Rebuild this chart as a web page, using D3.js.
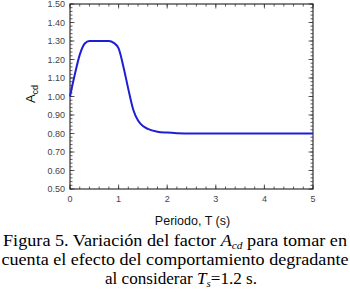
<!DOCTYPE html>
<html>
<head>
<meta charset="utf-8">
<script src="https://cdn.jsdelivr.net/npm/d3@7"></script>
<style>
  body { margin: 0; background: #fff; }
  svg { display: block; }
</style>
</head>
<body>
<svg id="chart" width="350" height="292"></svg>
<script>
// Periodo T (s) y factor Acd
const periods = [0, 0.1, 0.2, 0.3, 0.4, 0.5, 0.6, 0.7, 0.8, 0.9, 1.0, 1.1, 1.2, 1.3, 1.4, 1.5, 1.6, 1.8, 2.0, 2.2, 2.5, 3.0, 4.0, 5.0];
const acd = [1.00, 1.12, 1.225, 1.285, 1.30, 1.30, 1.30, 1.30, 1.30, 1.29, 1.26, 1.16, 1.04, 0.93, 0.87, 0.84, 0.825, 0.81, 0.805, 0.802, 0.80, 0.80, 0.80, 0.80];
const xTicks = [0, 1, 2, 3, 4, 5];
const yTicks = [0.5, 0.6, 0.7, 0.8, 0.9, 1.0, 1.1, 1.2, 1.3, 1.4, 1.5];
const captionLines = [
  ['Figura 5. Variación del factor ', ['A', 'cd'], ' para tomar en'],
  ['cuenta el efecto del comportamiento degradante'],
  ['al considerar ', ['T', 's'], '=1.2 s.']
];
const captionWidths = [344, 347, 152];

const margin = { top: 4, right: 37, bottom: 103, left: 70 };
const W = 350, H = 292;
const width = W - margin.left - margin.right;
const height = H - margin.top - margin.bottom;

const svg = d3.select('#chart');
const g = svg.append('g').attr('transform', `translate(${margin.left},${margin.top})`);

const x = d3.scaleLinear().domain([0, 5]).range([0, width]);
const y = d3.scaleLinear().domain([0.5, 1.5]).range([height, 0]);

const axisColor = '#333';
const labelFont = 'Liberation Sans, Arial, sans-serif';

// ticks menores
const xMinor = d3.range(0, 5.0001, 0.2);
const yMinor = d3.range(0.5, 1.5001, 0.02);

// abajo / arriba (hacia dentro)
[[height, -1], [0, 1]].forEach(([y0, dir]) => {
  g.selectAll(null).data(xMinor).enter().append('line')
    .attr('x1', d => x(d)).attr('x2', d => x(d))
    .attr('y1', y0).attr('y2', y0 + dir * 2.5)
    .attr('stroke', axisColor).attr('stroke-width', 0.8);
  g.selectAll(null).data(xTicks).enter().append('line')
    .attr('x1', d => x(d)).attr('x2', d => x(d))
    .attr('y1', y0).attr('y2', y0 + dir * 4.5)
    .attr('stroke', axisColor).attr('stroke-width', 0.8);
});

// izquierda / derecha (hacia dentro)
[[0, 1], [width, -1]].forEach(([x0, dir]) => {
  g.selectAll(null).data(yMinor).enter().append('line')
    .attr('x1', x0).attr('x2', x0 + dir * 2.5)
    .attr('y1', d => y(d)).attr('y2', d => y(d))
    .attr('stroke', axisColor).attr('stroke-width', 0.8);
  g.selectAll(null).data(yTicks).enter().append('line')
    .attr('x1', x0).attr('x2', x0 + dir * 4.5)
    .attr('y1', d => y(d)).attr('y2', d => y(d))
    .attr('stroke', axisColor).attr('stroke-width', 0.8);
});

g.append('rect')
  .attr('width', width).attr('height', height)
  .attr('fill', 'none').attr('stroke', axisColor).attr('stroke-width', 1.2);

// etiquetas de ticks
g.selectAll(null).data(xTicks).enter().append('text')
  .attr('x', d => x(d)).attr('y', height + 13)
  .attr('text-anchor', 'middle')
  .style('font-family', labelFont).style('font-size', '9px').style('fill', '#444')
  .text(d => d);

g.selectAll(null).data(yTicks).enter().append('text')
  .attr('x', -5).attr('y', d => y(d)).attr('dy', '0.35em')
  .attr('text-anchor', 'end')
  .style('font-family', labelFont).style('font-size', '9px').style('fill', '#444')
  .text(d => d.toFixed(2));

// curva
const line = d3.line()
  .x((d, i) => x(periods[i]))
  .y(d => y(d))
  .curve(d3.curveMonotoneX);

g.append('path')
  .datum(acd)
  .attr('d', line)
  .attr('fill', 'none')
  .attr('stroke', '#1e1ed6')
  .attr('stroke-width', 2);

// titulos de ejes
const yl = svg.append('text')
  .attr('transform', 'translate(35,94) rotate(-90)')
  .attr('text-anchor', 'middle')
  .style('font-family', labelFont).style('font-size', '13px').style('fill', '#111');
yl.append('tspan').text('A');
yl.append('tspan').attr('dy', 3).style('font-size', '9px').text('cd');

svg.append('text')
  .attr('x', 192.5).attr('y', 225)
  .attr('text-anchor', 'middle')
  .style('font-family', labelFont).style('font-size', '12.5px').style('fill', '#111')
  .text('Periodo, T (s)');

// pie de figura
captionLines.forEach((parts, i) => {
  const t = svg.append('text')
    .attr('x', i === 2 ? 181 : W / 2).attr('y', 246 + i * 19)
    .attr('text-anchor', 'middle')
    .attr('textLength', captionWidths[i])
    .attr('lengthAdjust', 'spacingAndGlyphs')
    .style('font-family', 'Liberation Serif, Times New Roman, serif')
    .style('font-size', '17.5px').style('fill', '#000');
  let shift = 0;
  parts.forEach(p => {
    if (typeof p === 'string') {
      t.append('tspan').attr('dy', shift).text(p);
      shift = 0;
    } else {
      t.append('tspan').style('font-style', 'italic').text(p[0]);
      t.append('tspan').style('font-style', 'italic').style('font-size', '11px').attr('dy', 2.5).text(p[1]);
      shift = -2.5;
    }
  });
});
</script>
</body>
</html>
